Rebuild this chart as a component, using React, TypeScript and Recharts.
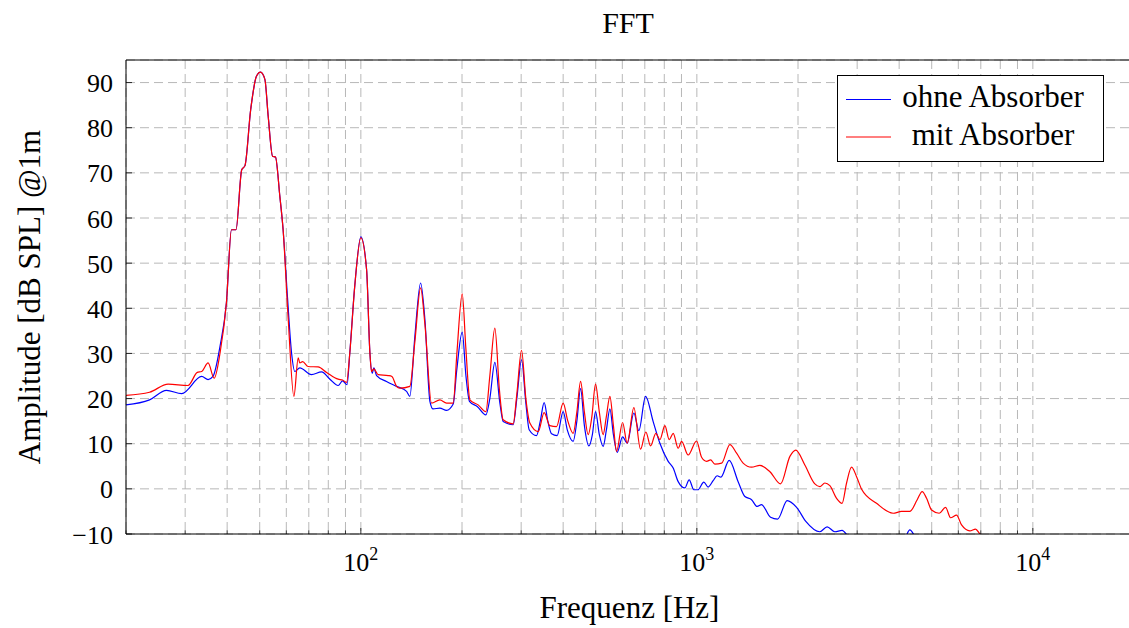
import React from "react";
import { LineChart, Line, XAxis, YAxis, CartesianGrid, Legend, Label } from "recharts";

// [frequency Hz, amplitude dB SPL]
const ohneAbsorber: [number, number][] = [
  [20, 18.6], [23.5, 19.7], [26.4, 21.8], [29.3, 21.1], [33.6, 24.9], [35.1, 24.2], [36.3, 24.9], [38.1, 31.6],
  [39.8, 41.2], [41.2, 57.4], [42.5, 57.4], [44.2, 70.7], [45.2, 71.6], [47.0, 84.0], [48.9, 91.4], [50.3, 92.3],
  [51.8, 90.7], [53.0, 82.5], [54.6, 73.7], [55.7, 73.5], [57.4, 64.8], [58.7, 57.4], [60.5, 42.3], [62.2, 30.1],
  [63.6, 26.0], [65.8, 26.8], [71.3, 25.3], [76.4, 25.9], [80.9, 24.3], [85.6, 22.9], [88.2, 23.9], [91.0, 23.1],
  [92.7, 30.1], [95.9, 44.9], [100, 55.8], [104, 48.6], [106.4, 30.1], [108.1, 25.6], [109.3, 26.8], [111.4, 25.1],
  [119.2, 23.8], [127.7, 22.7], [136.8, 21.6], [139.9, 20.5], [144.8, 33.8], [150.6, 45.6], [155.1, 37.5], [160.5, 19.4],
  [164.1, 17.7], [171.8, 17.9], [179.9, 17.4], [188.3, 18.8], [193, 26.4], [200.3, 34.7], [205.5, 25], [210.5, 19.4],
  [222.4, 18.2], [235.5, 16.4], [242, 20], [250.5, 28.0], [259.3, 19], [265.2, 14.9], [284, 14.2], [291.2, 20],
  [300.8, 28.6], [309.8, 19], [316.9, 13.1], [333.3, 11.8], [342, 15], [351.2, 19.1], [360.1, 15], [369.5, 12.2],
  [383.9, 11.8], [400, 17.1], [411.7, 13], [428.4, 10.5], [439.4, 15], [450.8, 22.2], [462.7, 14], [477.1, 9.5],
  [488.7, 12], [499.4, 17.1], [512.6, 12], [526.1, 9.4], [537.8, 13], [551.1, 17.7], [564.5, 12], [579.3, 8.1],
  [601.1, 11.5], [620.4, 10.1], [649.4, 16.8], [672, 12.9], [703.6, 20.5], [741.3, 14.9], [776.2, 10.1], [821.6, 6.1],
  [850.3, 4.6], [879.9, 1.6], [921, 0.2], [948.6, 2.0], [979.5, -0.2], [1007, -0.2], [1049, 1.5], [1080, 0.4],
  [1118, 1.8], [1149, 2.9], [1179, 2.6], [1248, 6.3], [1327, 1.6], [1390, -1.7], [1455, -2.4], [1512, -3.9],
  [1558, -3.5], [1657, -6.3], [1739, -6.7], [1857, -2.6], [1981, -4.1], [2110, -7.2], [2323, -9.5], [2442, -8.4],
  [2574, -9.5], [2706, -9.2], [2820, -10.5], [3056, -12], [3505, -13], [4020, -12], [4159, -11], [4304, -9.1],
  [4456, -10.5], [4771, -13], [5662, -14], [7977, -16], [20000, -20],
];

const mitAbsorber: [number, number][] = [
  [20, 20.7], [23.5, 21.4], [26.7, 23.2], [30.6, 22.9], [32.6, 25.8], [33.6, 26.0], [35.1, 27.9], [36.6, 24.5],
  [38.1, 30.1], [39.8, 41.2], [41.2, 57.4], [42.5, 57.4], [44.2, 70.7], [45.2, 71.6], [47.0, 84.0], [48.9, 91.4],
  [50.3, 92.3], [51.8, 90.7], [53.0, 82.5], [54.6, 73.7], [55.7, 73.5], [57.4, 64.8], [58.7, 57.4], [60.8, 37.5],
  [63.2, 20.5], [65.1, 29.0], [65.8, 27.9], [67.1, 28.2], [69.7, 27.1], [74.6, 27.0], [79.1, 25.8], [85.6, 24.3],
  [88.2, 24.1], [90.7, 23.6], [92.7, 30.1], [95.9, 44.9], [100, 55.6], [104, 48.6], [106.4, 30.1], [107.6, 26.0],
  [109.3, 26.6], [112.6, 25.3], [120.6, 25.1], [123.7, 24.9], [127.7, 22.7], [130.6, 22.3], [139.9, 22.7], [144.8, 32.6],
  [150.6, 44.5], [155.1, 36.5], [162.3, 19.0], [171.8, 19.7], [179.9, 19.0], [188.3, 19.0], [193.1, 30], [200.3, 43.2],
  [205.4, 31], [211.1, 19.7], [223.4, 18.6], [235.5, 17.1], [242, 25], [250.5, 35.6], [258.4, 22], [265.2, 15.3],
  [284, 14.4], [291.2, 21], [300.8, 30.7], [309.8, 20], [318.4, 14.6], [337.2, 12.7], [351.2, 16.9], [365.1, 14.0],
  [382.3, 13.8], [400, 19.0], [413.1, 15], [428.4, 12.3], [439.4, 17], [450.8, 23.8], [462.7, 17], [474.8, 12.0],
  [487, 16], [499.4, 23.2], [512.6, 17], [526.1, 12.0], [537.8, 16], [551.1, 20.5], [564.5, 14], [576.8, 8.3],
  [601.1, 14.7], [620.4, 10.1], [649.4, 18.0], [679.8, 8.8], [705.1, 12.6], [728.1, 9.5], [755.1, 12.3], [776.2, 10.9],
  [803.3, 14.0], [827.3, 10.9], [850.3, 12.3], [879.9, 9.0], [900.5, 10.5], [942.1, 7.5], [998, 10.6], [1033, 7.0],
  [1069, 6.1], [1099, 6.4], [1131, 5.5], [1185, 5.7], [1254, 9.8], [1313, 7.9], [1373, 5.7], [1455, 4.8],
  [1540, 5.2], [1650, 3.8], [1775, 1.1], [1892, 7.2], [1970, 8.6], [2096, 5.3], [2245, 1.1], [2323, 0.5],
  [2404, 1.3], [2488, 0.7], [2605, -2.1], [2706, -3.2], [2790, 1.3], [2887, 4.8], [2988, 2.7], [3093, -0.1],
  [3426, -3.2], [3839, -5.4], [4067, -5.0], [4304, -5.0], [4527, -2.4], [4684, -0.6], [4828, -2.1], [4995, -4.7],
  [5262, -5.4], [5498, -4.1], [5689, -6.4], [5928, -5.8], [6135, -8.0], [6494, -9.3], [6753, -8.9], [6955, -10.0],
  [7447, -12], [8543, -14], [12030, -17], [20000, -20],
];

const xTicks = [20, 30, 40, 50, 60, 70, 80, 90, 100, 200, 300, 400, 500, 600, 700, 800, 900, 1000,
  2000, 3000, 4000, 5000, 6000, 7000, 8000, 9000, 10000, 20000];
const xMajor = [100, 1000, 10000];
const yTicks = [-10, 0, 10, 20, 30, 40, 50, 60, 70, 80, 90];

const FONT = "'Liberation Serif', 'Times New Roman', serif";

const blueData = ohneAbsorber.map(([f, v]) => ({ f, v }));
const redData = mitAbsorber.map(([f, v]) => ({ f, v }));

const PLOT_LEFT = 126;
const PLOT_RIGHT = 1134;
const PLOT_TOP = 60;
const PLOT_BOTTOM = 534;

const BottomTick = (props: any) => {
  const { x, y, payload } = props;
  const v = payload.value;
  const major = xMajor.includes(v);
  const exp = Math.round(Math.log10(v));
  return (
    <g>
      <line x1={x} x2={x} y1={y} y2={y - (major ? 6 : 3.5)} stroke="#000" strokeWidth={0.8} />
      {major && (
        <text x={x} y={y + 37} textAnchor="middle" fontFamily={FONT} fontSize={26} fill="#000">
          <tspan>10</tspan>
          <tspan fontSize={18} dy={-11}>{exp}</tspan>
        </text>
      )}
    </g>
  );
};

const TopTick = (props: any) => {
  const { x, y, payload } = props;
  const major = xMajor.includes(payload.value);
  return <line x1={x} x2={x} y1={y} y2={y + (major ? 6 : 3.5)} stroke="#000" strokeWidth={0.8} />;
};

const LeftTick = (props: any) => {
  const { x, y, payload } = props;
  const v = payload.value;
  const label = v < 0 ? `\u2212${Math.abs(v)}` : `${v}`;
  return (
    <g>
      <line x1={x} x2={x + 6} y1={y} y2={y} stroke="#000" strokeWidth={0.8} />
      <text x={x - 13} y={y + 9.5} textAnchor="end" fontFamily={FONT} fontSize={26} fill="#000">
        {label}
      </text>
    </g>
  );
};

const renderLegend = () => (
  <svg width={267} height={87} style={{ display: "block" }}>
    <rect x={0.5} y={0.5} width={266} height={86} fill="#fff" stroke="#000" strokeWidth={1} />
    <line x1={9} x2={54} y1={24.5} y2={24.5} stroke="#0000ff" strokeWidth={1.2} />
    <text x={156} y={32} textAnchor="middle" fontFamily={FONT} fontSize={31} fill="#000">ohne Absorber</text>
    <line x1={9} x2={54} y1={62} y2={62} stroke="#ff0000" strokeWidth={1.2} />
    <text x={156} y={70} textAnchor="middle" fontFamily={FONT} fontSize={31} fill="#000">mit Absorber</text>
  </svg>
);

export default function App() {
  return (
    <div style={{ position: "absolute", left: 0, top: 0, width: 1129, height: 628, overflow: "hidden", background: "#fff" }}>
      <LineChart width={1140} height={628} margin={{ top: 0, right: 1140 - PLOT_RIGHT, bottom: 0, left: 0 }}>
        <CartesianGrid stroke="#b8b8b8" strokeDasharray="9 5" strokeWidth={1} />
        <XAxis
          dataKey="f"
          type="number"
          scale="log"
          domain={[20, 20000]}
          ticks={xTicks}
          interval={0}
          allowDataOverflow
          height={628 - PLOT_BOTTOM}
          tickSize={0}
          tickMargin={0}
          tickLine={false}
          axisLine={{ stroke: "#000", strokeWidth: 1 }}
          tick={<BottomTick />}
        >
          <Label
            content={() => (
              <text x={629.5} y={618} textAnchor="middle" fontFamily={FONT} fontSize={31} fill="#000">
                Frequenz [Hz]
              </text>
            )}
          />
        </XAxis>
        <XAxis
          xAxisId="top"
          orientation="top"
          type="number"
          scale="log"
          domain={[20, 20000]}
          ticks={xTicks}
          interval={0}
          allowDataOverflow
          height={PLOT_TOP}
          tickSize={0}
          tickMargin={0}
          tickLine={false}
          axisLine={{ stroke: "#000", strokeWidth: 1 }}
          tick={<TopTick />}
        >
          <Label
            content={() => (
              <text x={628} y={33} textAnchor="middle" fontFamily={FONT} fontSize={30} fill="#000">
                FFT
              </text>
            )}
          />
        </XAxis>
        <YAxis
          type="number"
          domain={[-10, 95]}
          ticks={yTicks}
          interval={0}
          allowDataOverflow
          width={PLOT_LEFT}
          tickSize={0}
          tickMargin={0}
          tickLine={false}
          axisLine={{ stroke: "#000", strokeWidth: 1 }}
          tick={<LeftTick />}
        >
          <Label
            content={() => (
              <text
                x={40}
                y={297}
                textAnchor="middle"
                fontFamily={FONT}
                fontSize={31}
                fill="#000"
                transform="rotate(-90, 40, 297)"
              >
                Amplitude [dB SPL] @1m
              </text>
            )}
          />
        </YAxis>
        <Line
          data={blueData}
          dataKey="v"
          name="ohne Absorber"
          type="monotone"
          stroke="#0000ff"
          strokeWidth={1.2}
          dot={false}
          activeDot={false}
          isAnimationActive={false}
        />
        <Line
          data={redData}
          dataKey="v"
          name="mit Absorber"
          type="monotone"
          stroke="#ff0000"
          strokeWidth={1.2}
          dot={false}
          activeDot={false}
          isAnimationActive={false}
        />
        <Legend
          layout="horizontal"
          verticalAlign="middle"
          align="center"
          content={renderLegend}
          wrapperStyle={{ left: 837, top: 75, width: 267, height: 87 }}
        />
      </LineChart>
    </div>
  );
}
